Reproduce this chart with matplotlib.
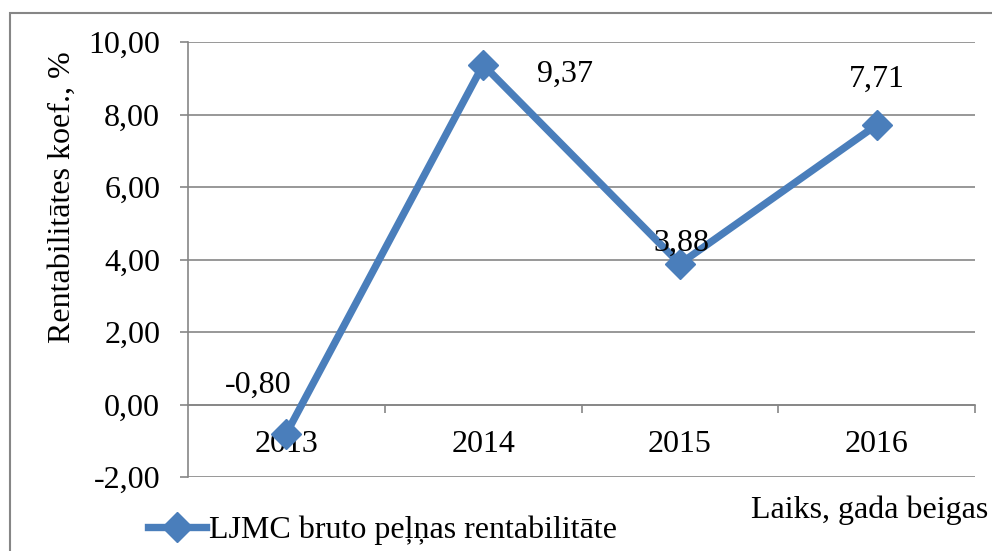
import matplotlib
matplotlib.use("Agg")
import matplotlib.pyplot as plt
from matplotlib.patches import Rectangle
from matplotlib.lines import Line2D

years = ["2013", "2014", "2015", "2016"]
values = [-0.80, 9.37, 3.88, 7.71]
label_texts = ["-0,80", "9,37", "3,88", "7,71"]
yticks = [-2, 0, 2, 4, 6, 8, 10]
ytick_labels = ["-2,00", "0,00", "2,00", "4,00", "6,00", "8,00", "10,00"]
series_name = "LJMC bruto peļņas rentabilitāte"
ylabel = "Rentabilitātes koef., %"
xlabel = "Laiks, gada beigas"

plt.rcParams['font.family'] = ['Liberation Serif', 'DejaVu Serif']
FS = 23
GRID = "#868686"
LINE = "#4A7EBB"

fig = plt.figure(figsize=(9.92, 5.51), dpi=100)
ax = fig.add_axes([188/992, 1-477/551, (975-188)/992, (477-42)/551])

# figure border
fig.patches.append(Rectangle((10/992, -0.1), 1.2, 1 - 13/551 + 0.1, transform=fig.transFigure,
                             fill=False, edgecolor=GRID, linewidth=1.5))

x = list(range(len(years)))
ax.plot(x, values, color=LINE, linewidth=5.3, marker='D', markersize=15,
        markeredgecolor=LINE, markerfacecolor=LINE, zorder=5, clip_on=False)

ax.set_xlim(-0.5, len(years) - 0.5)
ax.set_ylim(-2, 10)
ax.set_yticks(yticks)
ax.set_yticklabels(ytick_labels, fontsize=FS)
ax.grid(axis='y', color=GRID, linewidth=1.2)
ax.set_axisbelow(True)

for s in ['top', 'right']:
    ax.spines[s].set_visible(False)
ax.spines['left'].set_color(GRID)
ax.spines['left'].set_linewidth(1.2)
ax.spines['bottom'].set_position(('data', 0))
ax.spines['bottom'].set_color(GRID)
ax.spines['bottom'].set_linewidth(1.2)

ax.tick_params(axis='y', length=6, width=1.2, color=GRID, pad=14)
ax.set_xticks(x)
ax.set_xticklabels(years, fontsize=FS)
ax.tick_params(axis='x', which='major', length=0, pad=18)
ax.set_xticks([0.5, 1.5, 2.5, 3.5], minor=True)
ax.tick_params(axis='x', which='minor', length=6, width=1.2, color=GRID, direction='out')

# data labels (offsets in points)
offsets = [(-20, 35), (59, -7), (1, 15), (0, 33)]
for xi, v, t, off in zip(x, values, label_texts, offsets):
    ax.annotate(t, (xi, v), xytext=off, textcoords='offset points',
                ha='center', va='center', fontsize=FS, zorder=6)

fig.text(62/992, 1-197/551, ylabel, rotation=90, ha='center', va='center', fontsize=FS)
fig.text(988/992, 1-510/551, xlabel, ha='right', va='center', fontsize=FS)

handle = Line2D([], [], color=LINE, linewidth=5.3, marker='D', markersize=15)
fig.legend([handle], [series_name], loc='center left',
           bbox_to_anchor=(148/992, 1-530/551), frameon=False, fontsize=FS,
           handlelength=1.8, handletextpad=0.1, borderpad=0, borderaxespad=0)

fig.savefig("out.png", dpi=100)
